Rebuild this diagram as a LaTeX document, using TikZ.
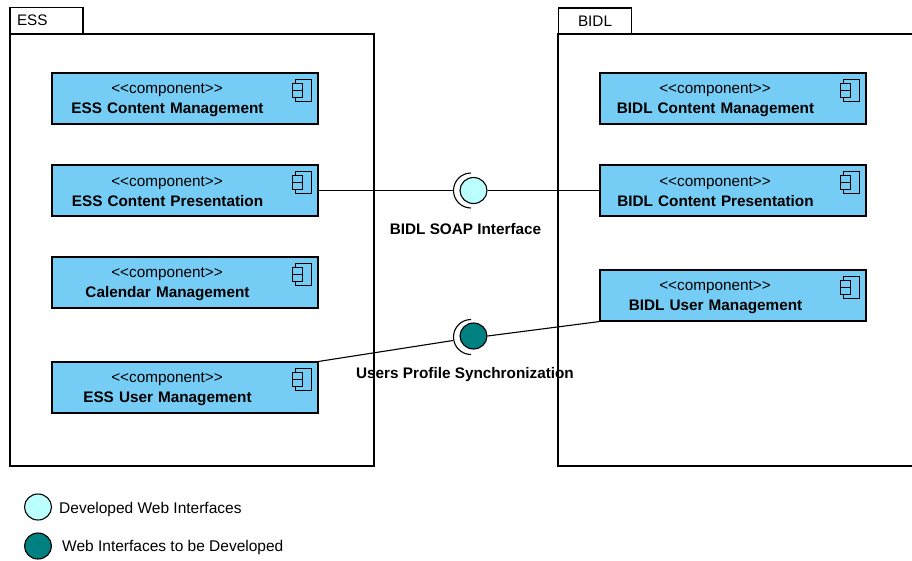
\documentclass[tikz,border=0pt]{standalone}
\usepackage{fontspec}
\setmainfont{Liberation Sans}
\usepackage{tikz}
\usetikzlibrary{shapes.geometric}

\definecolor{compblue}{HTML}{75CDF5}
\definecolor{donecyan}{HTML}{BBFFFF}
\definecolor{todoteal}{HTML}{008080}

\newcommand{\comptext}[1]{\hspace*{-36pt}\rule{0pt}{13pt}<{}<component>{}>\\\hspace*{-35pt}\textbf{#1}}

\tikzset{
  comp/.style={draw,line width=1.1pt,fill=compblue,minimum width=266pt,minimum height=51pt,
    text width=266pt,inner xsep=0pt,inner ysep=0pt,align=center,font=\fontsize{15.3}{20}\selectfont,
    path picture={
      \draw[line width=1pt]
        (path picture bounding box.north east) ++(-23,6.5) rectangle ++(16,21.5);
      \draw[line width=1pt,fill=compblue]
        (path picture bounding box.north east) ++(-25.5,10.5) rectangle ++(9.5,6.5)
        (path picture bounding box.north east) ++(-25.5,17.5) rectangle ++(9.5,6.5);
    }},
  frame/.style={draw,line width=1.1pt,minimum width=364pt,minimum height=432pt,inner sep=0pt},
  tab/.style={draw,line width=1.1pt,minimum height=26pt,text width=59pt,inner xsep=7pt,inner ysep=0pt,
    align=center,font=\fontsize{15.3}{17}\selectfont},
  iface/.style={draw,line width=1.1pt,ellipse,minimum width=27pt,minimum height=26pt,inner sep=0pt},
  socket/.style={line width=1.1pt},
  wire/.style={line width=1.1pt},
  ifacelabel/.style={font=\fontsize{15.3}{17}\selectfont\bfseries,inner sep=0pt},
  legend/.style={anchor=west,font=\fontsize{15.5}{17}\selectfont,inner sep=0pt}
}

\begin{document}
\begin{tikzpicture}[x=1pt,y=-1pt]
  \clip (0,0) rectangle (912,560);

  \node[frame] (ess) at (192,250) {};
  \node[frame] (bidl) at (740,250) {};
  \node[tab,align=left] (esstab) at (46.5,20.5) {ESS};
  \node[tab] (bidltab) at (595,21) {BIDL};

  \node[comp] (ecm) at (185,98.5) {\comptext{ESS Content Management}};
  \node[comp] (ecp) at (185,190.5) {\comptext{ESS Content Presentation}};
  \node[comp] (cal) at (185,282.5) {\comptext{Calendar Management}};
  \node[comp] (eum) at (185,387.5) {\comptext{ESS User Management}};

  \node[comp] (bcm) at (733,98.5) {\comptext{BIDL Content Management}};
  \node[comp] (bcp) at (733,190.5) {\comptext{BIDL Content Presentation}};
  \node[comp] (bum) at (733,295.5) {\comptext{BIDL User Management}};

  \node[iface,fill=donecyan] (soap) at (473.5,190.5) {};
  \node[iface,fill=todoteal] (sync) at (473.5,336) {};
  \coordinate (soapleft) at (453,190.5);
  \coordinate (soaptop) at (471,173);
  \coordinate (syncleft) at (453,340.5);
  \coordinate (synctop) at (471,319.5);

  \draw[socket] (soaptop) arc[start angle=90,end angle=270,radius=17.5pt];
  \draw[socket] (synctop) arc[start angle=90,end angle=270,radius=17.5pt];

  \draw[wire] (ecp.east) -- (soapleft);
  \draw[wire] (soap) -- (bcp.west);
  \draw[wire] (eum.north east) -- (syncleft);
  \draw[wire] (sync.east) -- (bum.south west);

  \node[ifacelabel] (soaplabel) at (465.5,229) {BIDL SOAP Interface};
  \node[ifacelabel] (synclabel) at (465,375) {Users Profile Synchronization};

  \node[iface,fill=donecyan] (donekey) at (38,507) {};
  \node[iface,fill=todoteal] (todokey) at (38,546) {};
  \node[legend] (donetext) at (59,509) {Developed Web Interfaces};
  \node[legend] (todotext) at (62,547) {Web Interfaces to be Developed};
\end{tikzpicture}
\end{document}
